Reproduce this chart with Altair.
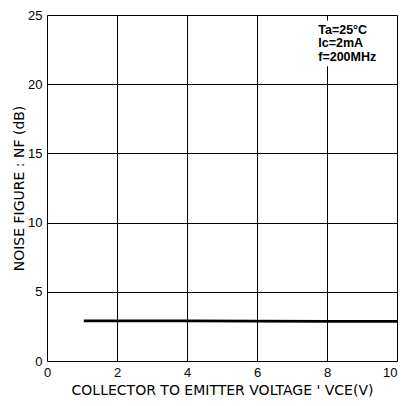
import altair as alt
import pandas as pd

vce = [1.05, 2.0, 4.0, 6.0, 8.0, 10.0]
nf = [2.9, 2.9, 2.9, 2.88, 2.87, 2.86]
notes = ["Ta=25°C", "Ic=2mA", "f=200MHz"]
note_x = [7.75, 7.75, 7.75]
note_y = [23.95, 22.95, 21.95]
box_x = [7.65]
box_x2 = [9.97]
box_y = [21.3]
box_y2 = [24.6]

df = pd.DataFrame({"vce": vce, "nf": nf})
ndf = pd.DataFrame({"t": notes, "x": note_x, "y": note_y})
bdf = pd.DataFrame({"x": box_x, "x2": box_x2, "y": box_y, "y2": box_y2})

xs = alt.Scale(domain=[0, 10], nice=False)
ys = alt.Scale(domain=[0, 25], nice=False)

line = alt.Chart(df).mark_line(color="black", strokeWidth=2.8).encode(
    x=alt.X("vce:Q", scale=xs,
            axis=alt.Axis(title="COLLECTOR TO EMITTER VOLTAGE ' VCE(V)", values=[0, 2, 4, 6, 8, 10],
                          grid=True, gridColor="black", gridOpacity=1, gridWidth=1,
                          ticks=False, domain=False, labelPadding=5, labelFontSize=13,
                          labelFont="Liberation Sans", labelColor="black",
                          labelAlign=alt.condition("datum.value == 10", alt.value("right"), alt.value("center")),
                          titleFont="DejaVu Sans", titleFontSize=14, titleFontWeight="normal",
                          titleColor="black", titlePadding=4, labelFlush=False)),
    y=alt.Y("nf:Q", scale=ys,
            axis=alt.Axis(title="NOISE FIGURE : NF (dB)", values=[0, 5, 10, 15, 20, 25],
                          grid=True, gridColor="black", gridOpacity=1, gridWidth=1,
                          ticks=False, domain=False, labelPadding=5, labelFontSize=13,
                          labelFont="Liberation Sans", labelColor="black",
                          titleFont="DejaVu Sans", titleFontSize=14, titleFontWeight="normal",
                          titleColor="black", titlePadding=1)),
)

box = alt.Chart(bdf).mark_rect(color="white").encode(
    x=alt.X("x:Q", scale=xs), x2="x2:Q", y=alt.Y("y:Q", scale=ys), y2="y2:Q")

text = alt.Chart(ndf).mark_text(align="left", baseline="middle", fontSize=12.5,
                                font="Liberation Sans", fontWeight="bold", color="black").encode(
    x=alt.X("x:Q", scale=xs), y=alt.Y("y:Q", scale=ys), text="t:N")

chart = alt.layer(line, box, text).properties(
    width=350, height=346,
    autosize=alt.AutoSizeParams(type="none"),
    padding={"left": 39, "top": 7, "right": 2, "bottom": 36},
).configure_view(stroke="black", strokeWidth=1.2).configure(background="white")

chart.save("out.html", embed_options={"renderer": "svg", "actions": False})
